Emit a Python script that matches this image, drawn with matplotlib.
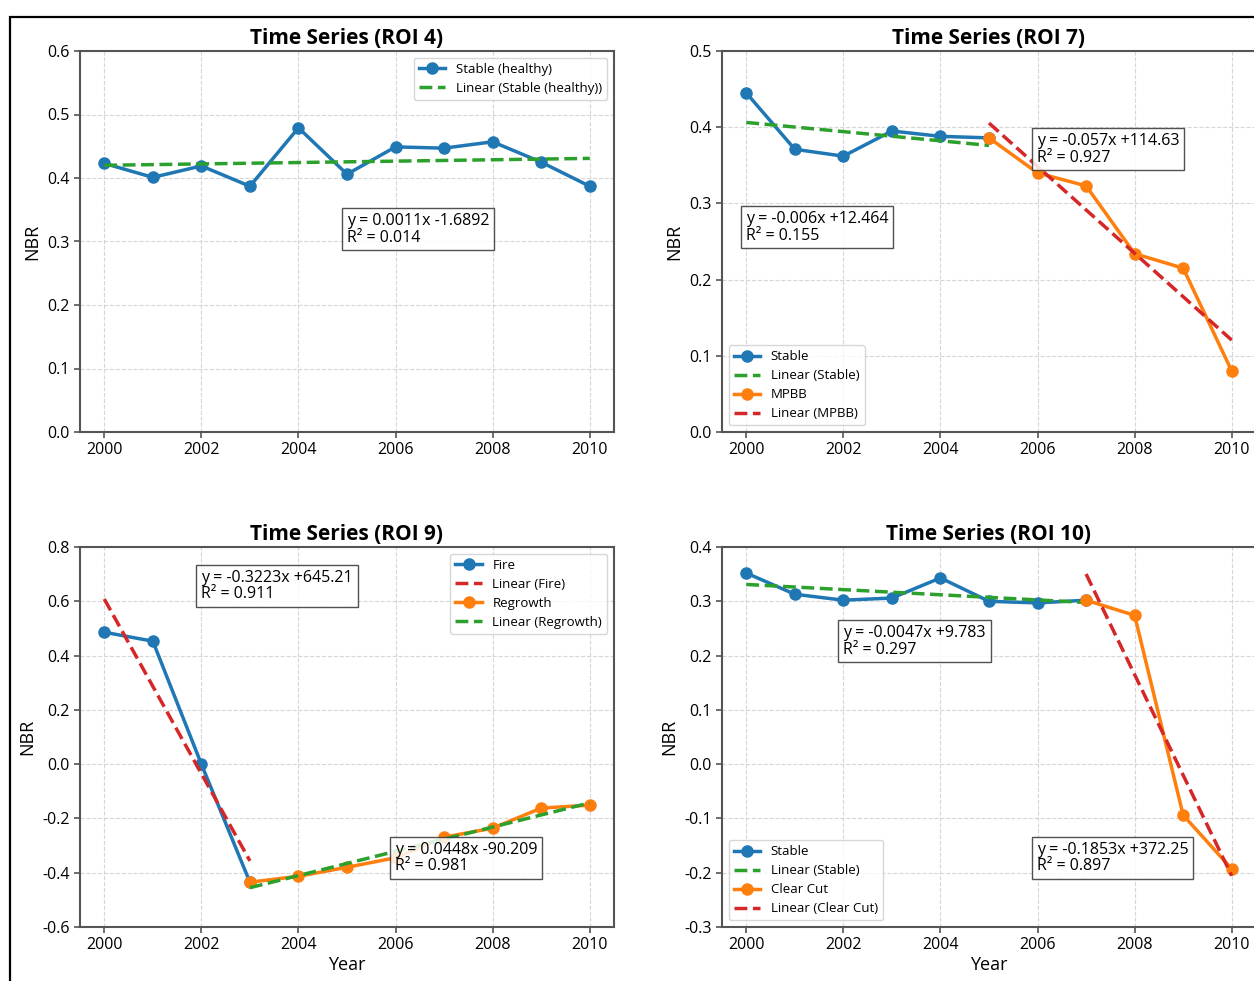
import numpy as np
import matplotlib
matplotlib.use("Agg")
import matplotlib.pyplot as plt
from matplotlib.patches import Rectangle

plt.rcParams['font.family'] = ['Open Sans', 'Noto Sans', 'DejaVu Sans']
plt.rcParams['axes.unicode_minus'] = False

# ROI 4
roi4_years = list(range(2000, 2011))
roi4_stable = [0.423, 0.401, 0.419, 0.387, 0.479, 0.406, 0.449, 0.447, 0.457, 0.425, 0.387]

# ROI 7
roi7_stable_years = list(range(2000, 2006))
roi7_stable = [0.445, 0.371, 0.362, 0.395, 0.388, 0.386]
roi7_mpbb_years = list(range(2005, 2011))
roi7_mpbb = [0.386, 0.340, 0.323, 0.234, 0.215, 0.080]

# ROI 9
roi9_fire_years = list(range(2000, 2004))
roi9_fire = [0.486, 0.453, 0.0, -0.435]
roi9_regrowth_years = list(range(2003, 2011))
roi9_regrowth = [-0.435, -0.413, -0.380, -0.345, -0.269, -0.236, -0.162, -0.151]

# ROI 10
roi10_stable_years = list(range(2000, 2008))
roi10_stable = [0.352, 0.313, 0.302, 0.306, 0.343, 0.300, 0.297, 0.302]
roi10_cut_years = list(range(2007, 2011))
roi10_cut = [0.302, 0.274, -0.094, -0.193]

BLUE, ORANGE, GREEN, RED = '#1f77b4', '#ff7f0e', '#2ca02c', '#d62728'

W, H = 1254, 981
fig = plt.figure(figsize=(W / 100, H / 100), dpi=100)


def make_ax(left, top, right, bottom):
    return fig.add_axes([left / W, (H - bottom) / H, (right - left) / W, (bottom - top) / H])


def style(ax, title, ylim, yticks, xlabel=False):
    ax.set_xlim(1999.5, 2010.5)
    ax.set_xticks(range(2000, 2011, 2))
    ax.set_ylim(*ylim)
    ax.set_yticks(yticks)
    ax.set_yticklabels([f"{v:.1f}" for v in yticks])
    ax.grid(True, linestyle='--', color='#cccccc', linewidth=0.8, alpha=0.8)
    ax.set_axisbelow(True)
    for s in ax.spines.values():
        s.set_color('#555555')
        s.set_linewidth(1.5)
    ax.tick_params(labelsize=11.5, color='#555555', length=4, width=1.2)
    ax.set_title(title, fontsize=15, fontweight='bold', pad=5)
    ax.set_ylabel('NBR', fontsize=13)
    if xlabel:
        ax.set_xlabel('Year', fontsize=13, labelpad=2)


def series(ax, x, y, color, label, trend_color, trend_label):
    ax.plot(x, y, '-o', color=color, lw=2.5, ms=8, label=label)
    k, b = np.polyfit(x, y, 1)
    xs = np.array([x[0], x[-1]])
    ax.plot(xs, k * xs + b, '--', color=trend_color, lw=2.5, label=trend_label)


def note(ax, x, y, text):
    ax.text(x, y, text, transform=ax.transAxes, ha='left', va='top', fontsize=11.5,
            linespacing=1.05, zorder=5,
            bbox=dict(boxstyle='square,pad=0.3', facecolor='white', edgecolor='#333333',
                      linewidth=1.0, alpha=0.85))


def legend(ax, loc):
    ax.legend(loc=loc, fontsize=9.5, labelspacing=0.45, borderpad=0.4, handlelength=2.0)


# ROI 4
ax = make_ax(80, 51, 614, 432)
series(ax, roi4_years, roi4_stable, BLUE, 'Stable (healthy)', GREEN, 'Linear (Stable (healthy))')
style(ax, 'Time Series (ROI 4)', (0, 0.6), np.arange(0, 0.61, 0.1))
note(ax, 0.5, 0.575, 'y = 0.0011x -1.6892\nR² = 0.014')
legend(ax, 'upper right')

# ROI 7
ax = make_ax(722, 51, 1256, 432)
series(ax, roi7_stable_years, roi7_stable, BLUE, 'Stable', GREEN, 'Linear (Stable)')
series(ax, roi7_mpbb_years, roi7_mpbb, ORANGE, 'MPBB', RED, 'Linear (MPBB)')
style(ax, 'Time Series (ROI 7)', (0, 0.5), np.arange(0, 0.51, 0.1))
note(ax, 0.045, 0.58, 'y = -0.006x +12.464\nR² = 0.155')
note(ax, 0.59, 0.785, 'y = -0.057x +114.63\nR² = 0.927')
legend(ax, 'lower left')

# ROI 9
ax = make_ax(80, 547, 614, 927)
series(ax, roi9_fire_years, roi9_fire, BLUE, 'Fire', RED, 'Linear (Fire)')
series(ax, roi9_regrowth_years, roi9_regrowth, ORANGE, 'Regrowth', GREEN, 'Linear (Regrowth)')
style(ax, 'Time Series (ROI 9)', (-0.6, 0.8), np.arange(-0.6, 0.81, 0.2), xlabel=True)
note(ax, 0.227, 0.94, 'y = -0.3223x +645.21\nR² = 0.911')
note(ax, 0.59, 0.225, 'y = 0.0448x -90.209\nR² = 0.981')
legend(ax, 'upper right')

# ROI 10
ax = make_ax(722, 547, 1256, 927)
series(ax, roi10_stable_years, roi10_stable, BLUE, 'Stable', GREEN, 'Linear (Stable)')
series(ax, roi10_cut_years, roi10_cut, ORANGE, 'Clear Cut', RED, 'Linear (Clear Cut)')
style(ax, 'Time Series (ROI 10)', (-0.3, 0.4), np.arange(-0.3, 0.41, 0.1), xlabel=True)
note(ax, 0.227, 0.795, 'y = -0.0047x +9.783\nR² = 0.297')
note(ax, 0.59, 0.225, 'y = -0.1853x +372.25\nR² = 0.897')
legend(ax, 'lower left')

# outer frame (only top and left edges fall inside the picture)
fig.patches.append(Rectangle((10 / W, -0.1), 1.2, (H - 17) / H + 0.1, transform=fig.transFigure,
                             fill=False, edgecolor='black', linewidth=1.6))

fig.savefig('out.png', dpi=100)
